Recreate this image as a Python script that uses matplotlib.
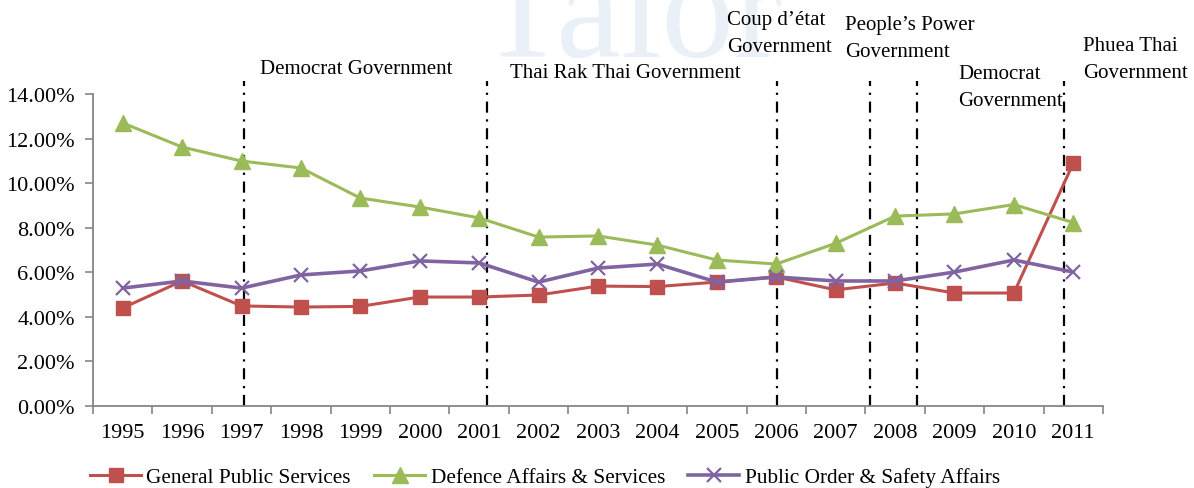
import matplotlib

matplotlib.use("Agg")
import matplotlib.pyplot as plt
import numpy as np
from matplotlib.ticker import FuncFormatter, FixedLocator

# share of total budget (%) by function, fiscal years 1995-2011
years = ["1995", "1996", "1997", "1998", "1999", "2000", "2001", "2002", "2003",
         "2004", "2005", "2006", "2007", "2008", "2009", "2010", "2011"]
general_public = [4.40, 5.61, 4.49, 4.44, 4.47, 4.89, 4.89, 4.98, 5.38,
                  5.36, 5.56, 5.79, 5.21, 5.52, 5.07, 5.07, 10.90]
defence = [12.70, 11.62, 10.99, 10.68, 9.33, 8.93, 8.44, 7.58, 7.63,
           7.22, 6.55, 6.37, 7.30, 8.52, 8.62, 9.04, 8.23]
public_order = [5.29, 5.61, 5.29, 5.88, 6.06, 6.51, 6.42, 5.56, 6.19,
                6.37, 5.56, 5.79, 5.61, 5.61, 6.01, 6.55, 6.01]

# change of government, as fractional year index
gov_changes = [2.04, 6.14, 11.01, 12.58, 13.37, 15.84]
gov_labels = ["Democrat Government", "Thai Rak Thai Government",
              "Coup d\u2019\u00e9tat\nGovernment", "People\u2019s Power\nGovernment",
              "Democrat\nGovernment", "Phuea Thai\nGovernment"]

plt.rcParams["font.family"] = ["Liberation Serif", "DejaVu Serif"]
FS = 15
TICK_FS = 16

W, H = 1194, 489
fig = plt.figure(figsize=(W / 100, H / 100), dpi=100)

# faint logo behind everything
fig.text(630 / W, 1 - 57 / H, "Talor", fontsize=105, color="#eaf0f7",
         ha="center", va="baseline", zorder=0)

ax = fig.add_axes([93 / W, 1 - 407 / H, 1010 / W, 312 / H])
ax.patch.set_alpha(0)

x = np.arange(len(years))
ax.plot(x, general_public, color="#C0504D", lw=2.2, marker="s", ms=10,
        label="General Public Services", zorder=3)
ax.plot(x, defence, color="#9BBB59", lw=2.2, marker="^", ms=11,
        label="Defence Affairs & Services", zorder=3)
ax.plot(x, public_order, color="#8064A2", lw=2.6, marker="x", ms=10, mew=1.6,
        label="Public Order & Safety Affairs", zorder=4)

for gx in gov_changes:
    ax.plot([gx, gx], [0, 14.6], color="black", lw=1.6, ls=(0, (5, 3, 1, 3)),
            clip_on=False, zorder=2)

ax.set_xlim(-0.5, len(years) - 0.5)
ax.set_ylim(0, 14)
ax.set_yticks(np.arange(0, 14.01, 2))
ax.yaxis.set_major_formatter(FuncFormatter(lambda v, p: f"{v:.2f}%"))

ax.xaxis.set_major_locator(FixedLocator(np.arange(-0.5, len(years), 1)))
ax.xaxis.set_minor_locator(FixedLocator(x))
ax.set_xticklabels([], minor=False)
ax.set_xticklabels(years, minor=True)
ax.tick_params(axis="x", which="minor", length=0, pad=12, labelsize=TICK_FS)
ax.tick_params(axis="x", which="major", length=6, width=1.2, color="#868686")
ax.tick_params(axis="y", length=6, width=1.2, color="#868686",
               labelsize=TICK_FS, pad=7)

for side in ("top", "right"):
    ax.spines[side].set_visible(False)
for side in ("left", "bottom"):
    ax.spines[side].set_color("#868686")
    ax.spines[side].set_linewidth(1.3)

# government labels
label_pos = [(260, 70), (510, 74), (727, 34), (845, 39), (958, 88), (1083, 60)]
for text, (px, py) in zip(gov_labels, label_pos):
    fig.text(px / W, 1 - py / H, text, fontsize=FS, ha="left", va="center",
             linespacing=1.6)

fig.legend(loc="center", bbox_to_anchor=(545 / W, 1 - 478 / H), ncol=3,
           frameon=False, fontsize=15.3, handlelength=2.4, columnspacing=1.1,
           handletextpad=0.25, borderaxespad=0)

fig.savefig("out.png", dpi=100)
